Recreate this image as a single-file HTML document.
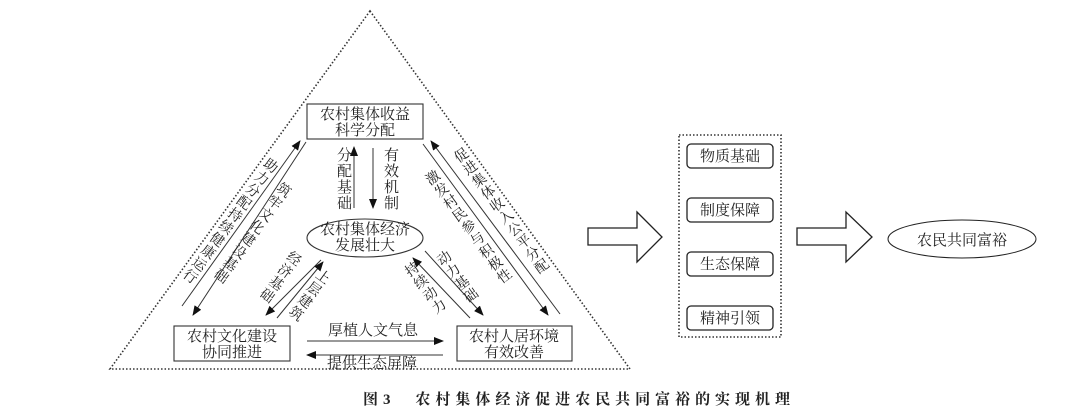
<!DOCTYPE html>
<html><head><meta charset="utf-8"><style>
body{margin:0;background:#fff;}
#w{position:relative;width:1088px;height:414px;overflow:hidden;font-family:"Liberation Serif","Noto Serif CJK SC",serif;color:#222;}
svg{position:absolute;left:0;top:0;}
.v{position:absolute;writing-mode:vertical-rl;font-size:14px;letter-spacing:1.2px;line-height:14px;white-space:nowrap;transform-origin:center center;}
.l{transform:translate(-50%,-50%) rotate(36deg);}
.r{transform:translate(-50%,-50%) rotate(-36deg);}
.s{transform:translate(-50%,-50%);font-size:15px;letter-spacing:1px;}
</style></head><body><div id="w">
<svg width="1088" height="414" viewBox="0 0 1088 414" font-family="Liberation Serif, Noto Serif CJK SC, serif" fill="#222">
<defs><marker id="a" markerWidth="10" markerHeight="8" refX="9" refY="4" orient="auto" markerUnits="userSpaceOnUse"><path d="M0,0 L10,4 L0,8 z" fill="#111"/></marker></defs>
<polygon points="370,11 110,369 630,369" fill="none" stroke="#333" stroke-width="1.6" stroke-dasharray="1.5,2"/>
<g stroke="#333" stroke-width="1.1" fill="#fff">
<rect x="307" y="104" width="116" height="35"/>
<rect x="174" y="326" width="116" height="35"/>
<rect x="457" y="326" width="115" height="35"/>
<ellipse cx="365" cy="238" rx="58" ry="19"/>
</g>
<g font-size="15" text-anchor="middle">
<text x="365" y="119">农村集体收益</text><text x="365" y="135">科学分配</text>
<text x="232" y="341">农村文化建设</text><text x="232" y="357">协同推进</text>
<text x="514" y="341">农村人居环境</text><text x="514" y="357">有效改善</text>
<text x="365" y="234">农村集体经济</text><text x="365" y="250">发展壮大</text>
</g>
<g stroke="#333" stroke-width="1" fill="none" marker-end="url(#a)">
<line x1="354" y1="208" x2="354" y2="147"/>
<line x1="373" y1="148" x2="373" y2="208"/>
<line x1="307" y1="341" x2="443" y2="341"/>
<line x1="443" y1="355" x2="307" y2="355"/>
<line x1="182" y1="306" x2="300" y2="141"/>
<line x1="306" y1="142" x2="193" y2="315"/>
<line x1="321" y1="260" x2="266" y2="315"/>
<line x1="277" y1="318" x2="323" y2="262"/>
<line x1="560" y1="314" x2="431" y2="141"/>
<line x1="423" y1="144" x2="548" y2="315"/>
<line x1="470" y1="318" x2="413" y2="258"/>
<line x1="425" y1="251" x2="483" y2="315"/>
</g>
<g font-size="15" text-anchor="middle">
<text x="373" y="335">厚植人文气息</text>
<text x="372" y="368">提供生态屏障</text>
</g>
<rect x="679" y="135" width="102" height="202" fill="none" stroke="#333" stroke-width="1.6" stroke-dasharray="1.5,2"/>
<g stroke="#222" stroke-width="1.3" fill="#fff">
<rect x="687" y="144" width="86" height="24" rx="4"/>
<rect x="687" y="198" width="86" height="24" rx="4"/>
<rect x="687" y="252" width="86" height="24" rx="4"/>
<rect x="687" y="306" width="86" height="24" rx="4"/>
<polygon points="588,228 637,228 637,212 662,237 637,262 637,245 588,245"/>
<polygon points="797,228 846,228 846,212 872,237 846,262 846,245 797,245"/>
<ellipse cx="962" cy="239" rx="74" ry="19" stroke-width="1"/>
</g>
<g font-size="15" text-anchor="middle">
<text x="730" y="161">物质基础</text>
<text x="730" y="215">制度保障</text>
<text x="730" y="269">生态保障</text>
<text x="730" y="323">精神引领</text>
<text x="962" y="245">农民共同富裕</text>
</g>
<text x="363" y="404" font-size="15" font-weight="bold" textLength="427" lengthAdjust="spacing">图3　农村集体经济促进农民共同富裕的实现机理</text>
</svg>
<div class="v s" style="left:343px;top:179px">分配基础</div>
<div class="v s" style="left:390px;top:179px">有效机制</div>
<div class="v l" style="left:229px;top:220px">助力分配持续健康运行</div>
<div class="v l" style="left:251px;top:232px">筑牢文化建设基础</div>
<div class="v l" style="left:279px;top:276px">经济基础</div>
<div class="v l" style="left:308px;top:294px">上层建筑</div>
<div class="v r" style="left:424px;top:289px">持续动力</div>
<div class="v r" style="left:456px;top:278px">动力基础</div>
<div class="v r" style="left:467px;top:228px">激发村民参与积极性</div>
<div class="v r" style="left:500px;top:212px">促进集体收入公平分配</div>
</div></body></html>
